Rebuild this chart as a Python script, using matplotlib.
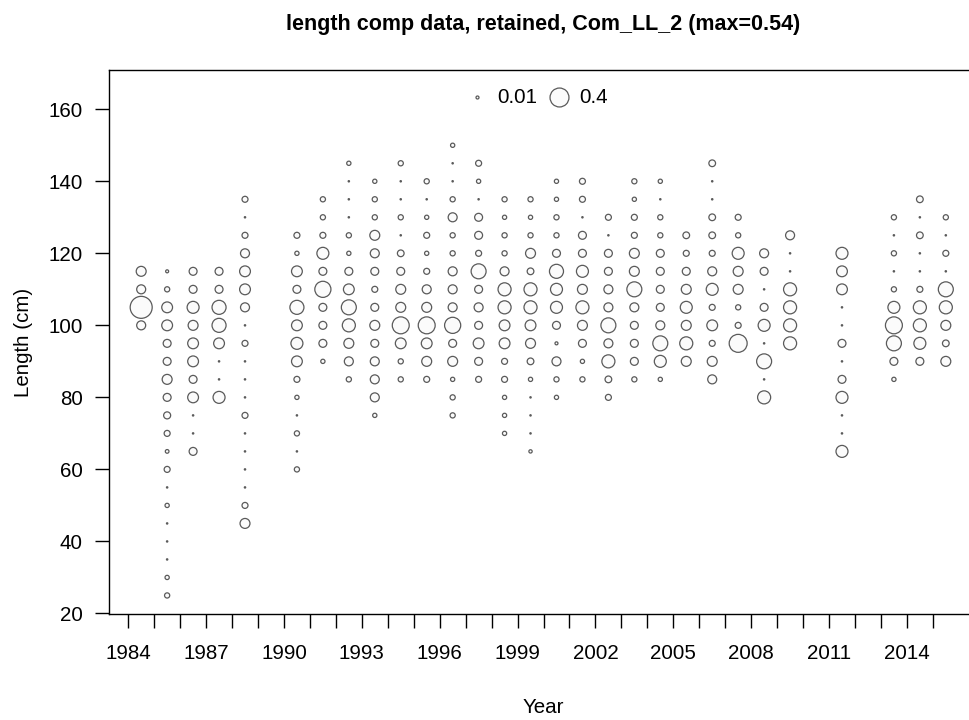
import numpy as np
import matplotlib
matplotlib.use("Agg")
import matplotlib.pyplot as plt

plt.rcParams['font.family'] = ['Liberation Sans', 'DejaVu Sans']

DPI = 100
BIN = 5
DOT = 0.002
FS = 14.8

# years with retained length comps, lowest length bin of each year
years = [1984, 1985, 1986, 1987, 1988, 1990, 1991, 1992, 1993, 1994,
         1995, 1996, 1997, 1998, 1999, 2000, 2001, 2002, 2003, 2004,
         2005, 2006, 2007, 2008, 2009, 2011, 2013, 2014, 2015]
min_len = [100, 25, 65, 80, 45, 60, 90, 85, 75, 85,
           85, 75, 85, 70, 65, 80, 85, 80, 85, 85,
           90, 85, 95, 80, 95, 65, 85, 90, 90]

# proportions by 5 cm bin, ascending from min_len
p1984 = [0.09, 0.54, 0.09, 0.11]
p1985 = [0.03, 0.02, DOT, DOT, DOT, 0.02, DOT, 0.04, 0.015, 0.04, 0.055, 0.07,
         0.11, 0.07, 0.07, 0.13, 0.13, 0.03, 0.01]
p1986 = [0.07, DOT, DOT, 0.13, 0.07, 0.13, 0.13, 0.11, 0.16, 0.07, 0.07]
p1987 = [0.16, DOT, DOT, 0.13, 0.22, 0.22, 0.07, 0.07]
p1988 = [0.11, 0.04, DOT, DOT, DOT, DOT, 0.04, DOT, DOT, DOT, 0.04, DOT,
         0.09, 0.13, 0.13, 0.09, 0.04, DOT, 0.04]
p1990 = [0.03, DOT, 0.03, DOT, 0.02, 0.04, 0.13, 0.16, 0.13, 0.22, 0.07, 0.13,
         0.02, 0.04]
p1991 = [0.02, 0.07, 0.07, 0.07, 0.29, 0.07, 0.16, 0.04, 0.03, 0.03]
p1992 = [0.03, 0.09, 0.11, 0.19, 0.25, 0.13, 0.07, 0.02, 0.03, DOT, DOT, DOT, 0.02]
p1993 = [0.02, 0.09, 0.09, 0.09, 0.07, 0.11, 0.07, 0.04, 0.07, 0.09, 0.11, 0.03,
         0.03, 0.02]
p1994 = [0.03, 0.03, 0.13, 0.32, 0.11, 0.11, 0.07, 0.05, DOT, 0.03, DOT, DOT, 0.03]
p1995 = [0.04, 0.11, 0.13, 0.32, 0.11, 0.09, 0.04, 0.02, 0.04, 0.02, DOT, 0.03]
p1996 = [0.03, 0.03, 0.02, 0.11, 0.07, 0.29, 0.09, 0.09, 0.09, 0.03, 0.03, 0.09,
         0.03, DOT, DOT, 0.02]
p1997 = [0.04, 0.07, 0.13, 0.07, 0.09, 0.07, 0.25, 0.04, 0.07, 0.07, DOT, 0.02, 0.04]
p1998 = [0.02, 0.02, 0.02, 0.04, 0.04, 0.13, 0.13, 0.19, 0.19, 0.09, 0.03, 0.03,
         0.02, 0.03]
p1999 = [0.012, DOT, DOT, DOT, 0.02, 0.05, 0.11, 0.13, 0.19, 0.19, 0.05, 0.11,
         0.03, 0.02, 0.03]
p2000 = [0.02, 0.03, 0.09, 0.01, 0.07, 0.16, 0.16, 0.22, 0.07, 0.03, 0.03, 0.02, 0.02]
p2001 = [0.03, 0.02, 0.07, 0.11, 0.19, 0.11, 0.16, 0.07, 0.07, DOT, 0.04, 0.04]
p2002 = [0.04, 0.05, 0.19, 0.09, 0.25, 0.09, 0.09, 0.07, 0.07, DOT, 0.04]
p2003 = [0.03, 0.07, 0.07, 0.07, 0.09, 0.25, 0.11, 0.11, 0.04, 0.04, 0.02, 0.03]
p2004 = [0.02, 0.16, 0.25, 0.09, 0.07, 0.07, 0.07, 0.07, 0.03, 0.03, DOT, 0.02]
p2005 = [0.11, 0.19, 0.11, 0.16, 0.11, 0.07, 0.04, 0.05]
p2006 = [0.09, 0.11, 0.04, 0.13, 0.04, 0.16, 0.09, 0.04, 0.05, 0.05, DOT, DOT, 0.05]
p2007 = [0.36, 0.04, 0.03, 0.11, 0.11, 0.16, 0.03, 0.04]
p2008 = [0.19, DOT, 0.25, DOT, 0.16, 0.07, DOT, 0.07, 0.09]
p2009 = [0.19, 0.19, 0.19, 0.19, DOT, DOT, 0.09]
p2011 = [0.16, DOT, DOT, 0.16, 0.07, DOT, 0.07, DOT, DOT, 0.13, 0.13, 0.16]
p2013 = [0.02, 0.07, 0.25, 0.32, 0.16, 0.03, DOT, 0.03, DOT, 0.03]
p2014 = [0.07, 0.16, 0.19, 0.19, 0.04, DOT, DOT, 0.05, DOT, 0.05]
p2015 = [0.11, 0.05, 0.11, 0.19, 0.25, DOT, 0.04, DOT, 0.03]

props = [p1984, p1985, p1986, p1987, p1988, p1990, p1991, p1992, p1993, p1994,
         p1995, p1996, p1997, p1998, p1999, p2000, p2001, p2002, p2003, p2004,
         p2005, p2006, p2007, p2008, p2009, p2011, p2013, p2014, p2015]

legend_vals = [0.01, 0.4]
max_val = 0.54
max_diam_px = 22.0


def bubble_size(v):
    # area proportional to value, in points^2
    return (max_diam_px * 72.0 / DPI) ** 2 * np.asarray(v) / max_val


xs, ys, vs = [], [], []
for yr, lo, p in zip(years, min_len, props):
    for i, v in enumerate(p):
        xs.append(yr + 0.5)
        ys.append(lo + i * BIN)
        vs.append(v)

fig = plt.figure(figsize=(9.69, 7.20), dpi=DPI)
ax = fig.add_axes([109 / 969, 1 - 614 / 720, (978 - 109) / 969, (614 - 70) / 720])

edge = '#5a5a5a'
ax.scatter(xs, ys, s=bubble_size(vs), facecolors='#fbfbfb', edgecolors=edge,
           linewidths=0.9, zorder=3)

ax.set_xlim(1983.26, 2016.74)
ax.set_ylim(19.85, 170.9)

ax.set_xticks(np.arange(1984, 2016))
ax.set_xticklabels([str(y) if (y - 1984) % 3 == 0 else '' for y in range(1984, 2016)])
ax.set_yticks(np.arange(20, 161, 20))
ax.tick_params(axis='both', direction='out', length=10, width=1.0, labelsize=FS,
               color='black')
ax.tick_params(axis='x', pad=11.5)
ax.tick_params(axis='y', pad=9)
for sp in ax.spines.values():
    sp.set_linewidth(1.0)

ax.set_xlabel('Year', fontsize=FS, labelpad=25)
ax.set_ylabel('Length (cm)', fontsize=FS, labelpad=11)
ax.set_title('length comp data, retained, Com_LL_2 (max=0.54)',
             fontsize=15.5, fontweight='bold', pad=29)

handles = [ax.scatter([], [], s=bubble_size(v), facecolors='#fbfbfb',
                      edgecolors=edge, linewidths=0.9) for v in legend_vals]
ax.legend(handles, [str(v) for v in legend_vals], loc='center',
          bbox_to_anchor=(0.493, 0.950), ncol=2, frameon=False, fontsize=FS,
          handletextpad=0.47, columnspacing=0.57, handlelength=1.0,
          borderaxespad=0.0, borderpad=0.2)

fig.savefig('out.png', dpi=DPI)
